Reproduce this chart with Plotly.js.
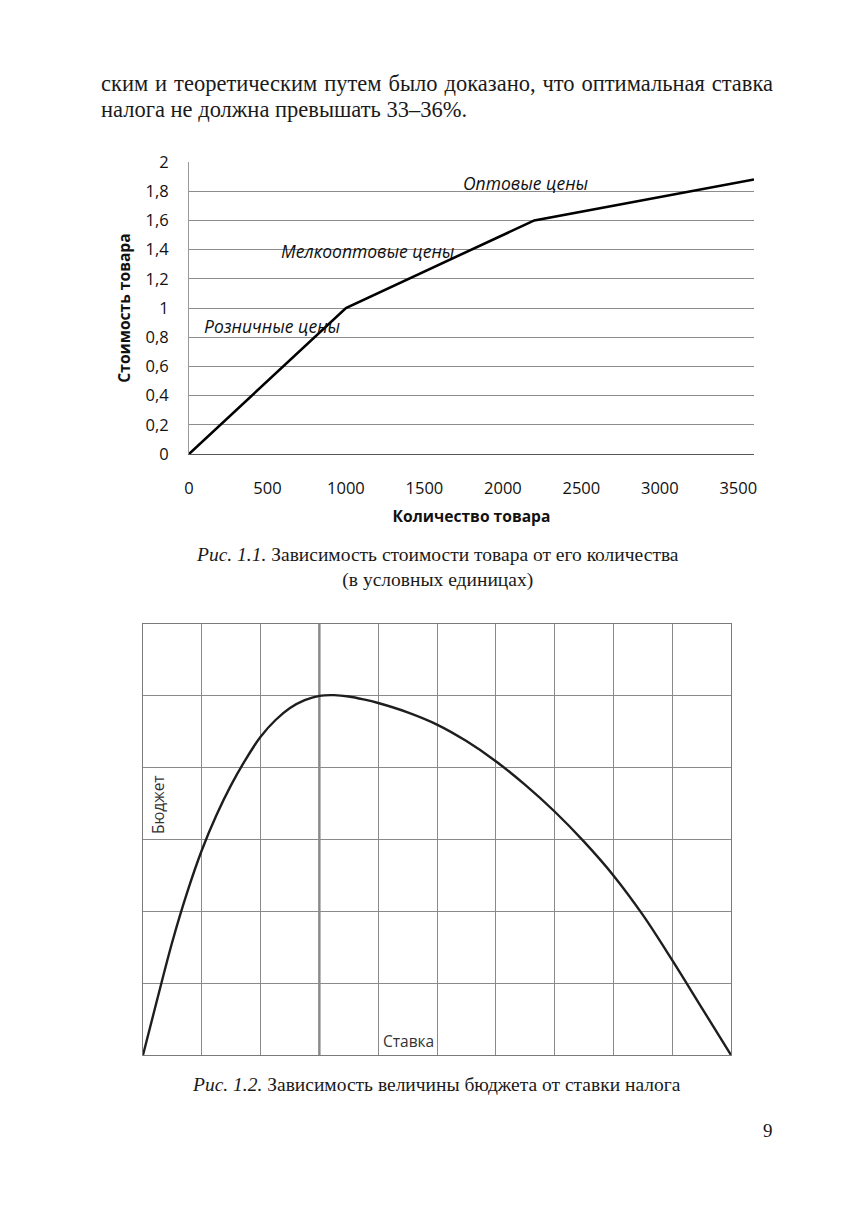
<!DOCTYPE html>
<html>
<head>
<meta charset="utf-8">
<script src="https://cdn.plot.ly/plotly-3.0.1.min.js"></script>
<style>
  html, body { margin: 0; padding: 0; background: #fff; }
  #wrap { position: relative; width: 857px; height: 1211px; }
  #chart { position: absolute; left: 0; top: 0; width: 857px; height: 1211px; }
  #para { position: absolute; left: 101px; top: 71px; width: 672px;
          font-family: "Liberation Serif", "DejaVu Serif", serif; font-size: 22.5px;
          line-height: 26px; color: #1a1a1a; }
  #para .l1 { display: block; text-align: justify; text-align-last: justify; white-space: nowrap; }
  #para .l2 { display: block; }
</style>
</head>
<body>
<div id="wrap">
  <div id="chart"></div>
  <div id="para"><span class="l1">ским и теоретическим путем было доказано, что оптимальная ставка</span><span class="l2">налога не должна превышать 33–36%.</span></div>
</div>
<script>
// ---- Figure 1.1 data ----
const quantity = [0, 1000, 2200, 3600];
const cost = [0, 1.0, 1.6, 1.88];
const costTicks = [0, 0.2, 0.4, 0.6, 0.8, 1, 1.2, 1.4, 1.6, 1.8, 2];
const costTickLabels = ["0", "0,2", "0,4", "0,6", "0,8", "1", "1,2", "1,4", "1,6", "1,8", "2"];
const quantityTicks = [0, 500, 1000, 1500, 2000, 2500, 3000, 3500];
const segmentLabels = ["Розничные цены", "Мелкооптовые цены", "Оптовые цены"];
const segmentLabelX = [530, 1143, 2145];
const segmentLabelY = [0.88, 1.39, 1.856];

// ---- Figure 1.2 data ----
const rate = [0, 0.25, 0.5, 0.75, 1, 1.25, 1.5, 1.75, 2, 2.25, 2.5, 2.75, 3, 3.25, 3.5, 3.75,
              4, 4.5, 5, 5.5, 6, 6.5, 7, 7.5, 8, 8.5, 9, 9.5, 10];
const budget = [0, 0.8, 1.58, 2.26, 2.85, 3.34, 3.76, 4.12, 4.43, 4.66, 4.83, 4.94, 5.0, 5.01, 4.99, 4.95,
                4.90, 4.77, 4.60, 4.37, 4.09, 3.76, 3.39, 2.97, 2.50, 1.95, 1.32, 0.66, 0];
const optimumRate = 3;

const W = 857, H = 1211;
const px = v => v / W;
const py = v => 1 - v / H;

const sans = "Open Sans, Noto Sans, sans-serif";
const serif = "Liberation Serif, DejaVu Serif, serif";

const traces = [
  { x: quantity, y: cost, xaxis: "x", yaxis: "y", type: "scatter", mode: "lines",
    line: { color: "#000", width: 2.6 }, hoverinfo: "skip" },
  { x: rate, y: budget, xaxis: "x2", yaxis: "y2", type: "scatter", mode: "lines",
    line: { color: "#1e1e1e", width: 2.4, shape: "spline", smoothing: 1 }, hoverinfo: "skip" }
];

const annotations = [];
segmentLabels.forEach((t, i) => annotations.push({
  text: t, x: segmentLabelX[i], y: segmentLabelY[i], xref: "x", yref: "y",
  xanchor: "center", yanchor: "middle",
  showarrow: false, font: { family: sans, size: 17.5, color: "#111", style: "italic" }
}));
const pageText = (text, x, y, font, extra) => Object.assign({
  text, xref: "paper", yref: "paper", x: px(x), y: py(y),
  xanchor: "center", yanchor: "middle", showarrow: false, font
}, extra || {});
annotations.push(
  pageText("Бюджет", 158, 805, { family: sans, size: 15.5, color: "#333" }, { textangle: -90 }),
  pageText("Ставка", 408, 1041, { family: sans, size: 15.5, color: "#333" }),
  pageText("<i>Рис. 1.1.</i> Зависимость стоимости товара от его количества<br>(в условных единицах)",
           438, 567, { family: serif, size: 19.5, color: "#1a1a1a" }),
  pageText("<i>Рис. 1.2.</i> Зависимость величины бюджета от ставки налога",
           437, 1084, { family: serif, size: 19.5, color: "#1a1a1a" }),
  pageText("9", 768, 1130, { family: serif, size: 19, color: "#1a1a1a" })
);

const layout = {
  width: W, height: H,
  margin: { l: 0, r: 0, t: 0, b: 0 },
  paper_bgcolor: "#fff", plot_bgcolor: "#fff",
  showlegend: false,
  xaxis: {
    domain: [px(189), px(754)], range: [0, 3600], tickvals: quantityTicks,
    showgrid: false, zeroline: false, showline: true, linecolor: "#555", linewidth: 1,
    ticks: "", ticklabelstandoff: 19,
    tickfont: { family: sans, size: 16.5, color: "#111" },
    title: { text: "<b>Количество товара</b>", standoff: 13,
             font: { family: sans, size: 15.6, color: "#111" } },
    automargin: false, fixedrange: true
  },
  yaxis: {
    domain: [py(454), py(162)], range: [0, 2], tickvals: costTicks, ticktext: costTickLabels,
    showgrid: true, gridcolor: "#8c8c8c", gridwidth: 1, zeroline: false,
    showline: true, linecolor: "#999", linewidth: 1,
    ticks: "", ticklabelstandoff: 16,
    tickfont: { family: sans, size: 16.5, color: "#111" },
    title: { text: "<b>Стоимость товара</b>", standoff: 11,
             font: { family: sans, size: 15.6, color: "#111" } },
    automargin: false, fixedrange: true
  },
  xaxis2: {
    domain: [px(143), px(731)], range: [0, 10], dtick: 1, anchor: "y2",
    showgrid: true, gridcolor: "#8a8a8a", gridwidth: 1, zeroline: false,
    showline: true, mirror: true, linecolor: "#7a7a7a", linewidth: 1,
    showticklabels: false, ticks: "", automargin: false, fixedrange: true
  },
  yaxis2: {
    domain: [py(1055), py(624)], range: [0, 6], dtick: 1, anchor: "x2",
    showgrid: true, gridcolor: "#8a8a8a", gridwidth: 1, zeroline: false,
    showline: true, mirror: true, linecolor: "#7a7a7a", linewidth: 1,
    showticklabels: false, ticks: "", automargin: false, fixedrange: true
  },
  shapes: [
    { type: "line", xref: "x2", yref: "y2 domain", x0: optimumRate, x1: optimumRate, y0: 0, y1: 1,
      line: { color: "#555", width: 2 }, layer: "below" }
  ],
  annotations: annotations
};

Plotly.newPlot("chart", traces, layout, { staticPlot: true, displayModeBar: false });
</script>
</body>
</html>
